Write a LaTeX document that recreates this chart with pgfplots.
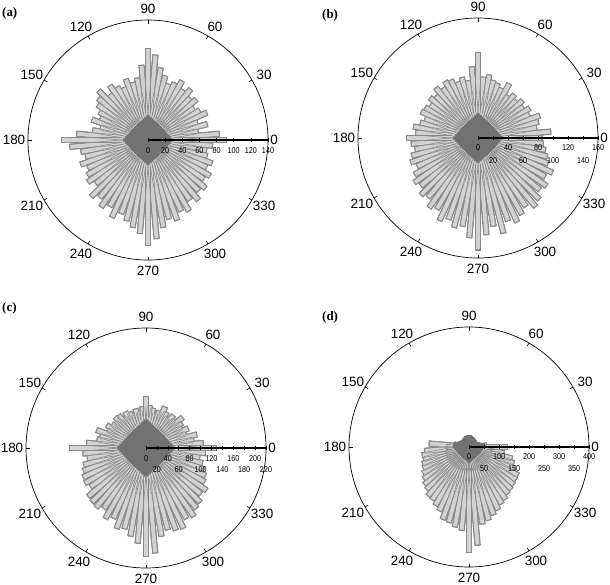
\documentclass[border=0pt]{standalone}
\usepackage{fontspec}
\setmainfont{Liberation Sans}
\newfontfamily\panelfont{Liberation Serif}
\newfontfamily\radfont[FakeStretch=0.85]{Liberation Sans}
\usepackage{pgfplots}
\usepackage{pgfplotstable}
\pgfplotsset{compat=1.18}

\definecolor{barfill}{HTML}{D2D2D2}
\definecolor{baredge}{HTML}{8A8A8A}
\definecolor{bardark}{HTML}{727272}

% bin centre (deg) and count
\pgfplotstableread{
a r
0 92
5 84
10 60
15 72
20 62
25 76
30 70
35 66
40 74
45 70
50 78
55 72
60 80
65 74
70 70
75 78
80 86
85 100
90 107
95 88
100 74
105 70
110 76
115 68
120 72
125 78
130 70
135 82
140 76
145 72
150 66
155 62
160 70
165 58
170 66
175 84
180 102
185 92
190 80
195 76
200 84
205 78
210 82
215 86
220 80
225 94
230 88
235 96
240 90
245 100
250 92
255 98
260 104
265 110
270 124
275 116
280 104
285 96
290 100
295 92
300 96
305 86
310 92
315 84
320 88
325 80
330 84
335 76
340 80
345 72
350 70
355 76
}\tabA

\pgfplotstableread{
a r
0 86
5 98
10 80
15 84
20 88
25 76
30 80
35 74
40 78
45 72
50 76
55 70
60 84
65 74
70 78
75 80
80 86
85 82
90 115
95 96
100 78
105 84
110 80
115 86
120 88
125 82
130 88
135 80
140 84
145 78
150 82
155 84
160 76
165 80
170 88
175 84
180 96
185 90
190 86
195 92
200 96
205 90
210 98
215 104
220 100
225 108
230 104
235 114
240 110
245 122
250 116
255 124
260 120
265 134
270 150
275 130
280 120
285 132
290 118
295 124
300 118
305 112
310 120
315 116
320 108
325 112
330 104
335 110
340 100
345 96
350 92
355 88
}\tabB

\pgfplotstableread{
a r
0 130
5 106
10 90
15 97
20 79
25 86
30 77
35 81
40 88
45 75
50 79
55 70
60 77
65 84
70 73
75 68
80 75
85 79
90 95
95 77
100 70
105 75
110 68
115 73
120 77
125 70
130 79
135 81
140 75
145 77
150 84
155 79
160 97
165 88
170 92
175 110
180 141
185 117
190 110
195 119
200 123
205 128
210 130
215 125
220 139
225 141
230 143
235 136
240 150
245 143
250 158
255 154
260 165
265 176
270 200
275 194
280 165
285 156
290 161
295 163
300 150
305 154
310 145
315 141
320 132
325 136
330 125
335 121
340 114
345 108
350 101
355 110
}\tabC

\pgfplotstableread{
a r
0 130
5 60
10 40
15 34
20 30
25 32
30 28
35 30
40 26
45 30
50 28
55 32
60 30
65 34
70 32
75 36
80 34
85 38
90 40
95 36
100 38
105 34
110 36
115 32
120 34
125 30
130 32
135 28
140 30
145 32
150 30
155 34
160 36
165 40
170 52
175 135
180 80
185 150
190 160
195 158
200 166
205 170
210 178
215 186
220 196
225 202
230 214
235 216
240 226
245 236
250 258
255 262
260 272
265 280
270 352
275 330
280 262
285 254
290 242
295 232
300 220
305 214
310 204
315 200
320 196
325 192
330 190
335 170
340 160
345 150
350 120
355 100
}\tabD

% #1 outer radius of the scale, #2 size of the dark centre (bp)
\pgfplotsset{
  rose/.style 2 args={
    hide axis, scale only axis, width=240bp, height=240bp,
    xmin=-#1, xmax=#1, ymin=-#1, ymax=#1, clip=false, anchor=center,
    declare function={
      rin(\p,\q)=min(\q,#2*#1/120/(abs(cos(\p))+abs(sin(\p))));
      rout(\p,\q)=max(\q-1.1*#1/120,rin(\p,\q));
      off(\p)=\p*2.4*#1/120;
    },
  },
  bar/.style={quiver={
      u={(rout(\thisrow{a},\thisrow{r})-rin(\thisrow{a},\thisrow{r}))*cos(\thisrow{a})},
      v={(rout(\thisrow{a},\thisrow{r})-rin(\thisrow{a},\thisrow{r}))*sin(\thisrow{a})}}},
}

\newcommand\roseplots[1]{%
  % dark core, whole length
  \addplot[draw=bardark, line width=6bp,
    quiver={u={\thisrow{r}*cos(\thisrow{a})}, v={\thisrow{r}*sin(\thisrow{a})}}]
    table[x expr=0, y expr=0] {#1};
  % bar outline
  \addplot[draw=baredge, line width=6bp,
    quiver={u={(\thisrow{r}-rin(\thisrow{a},\thisrow{r}))*cos(\thisrow{a})},
            v={(\thisrow{r}-rin(\thisrow{a},\thisrow{r}))*sin(\thisrow{a})}}]
    table[x expr={rin(\thisrow{a},\thisrow{r})*cos(\thisrow{a})},
          y expr={rin(\thisrow{a},\thisrow{r})*sin(\thisrow{a})}] {#1};
  % bar fill
  \addplot[draw=barfill, line width=4.3bp, bar]
    table[x expr={rin(\thisrow{a},\thisrow{r})*cos(\thisrow{a})},
          y expr={rin(\thisrow{a},\thisrow{r})*sin(\thisrow{a})}] {#1};
  % the edges of each bar, seen where the bars overlap
  \addplot[draw=baredge, line width=0.6bp, bar]
    table[x expr={rin(\thisrow{a},\thisrow{r})*cos(\thisrow{a})+off(1)*sin(\thisrow{a})},
          y expr={rin(\thisrow{a},\thisrow{r})*sin(\thisrow{a})-off(1)*cos(\thisrow{a})}] {#1};
  \addplot[draw=baredge, line width=0.6bp, bar]
    table[x expr={rin(\thisrow{a},\thisrow{r})*cos(\thisrow{a})-off(1)*sin(\thisrow{a})},
          y expr={rin(\thisrow{a},\thisrow{r})*sin(\thisrow{a})+off(1)*cos(\thisrow{a})}] {#1};
}

% circle, angle labels and the radial scale line
\newcommand\polarframe[2]{%
  \begin{scope}[shift={(#1bp,-#2bp)}]
    \draw[line width=0.7bp] (0,0) circle[radius=120bp];
    \foreach \t in {30,60,...,330} \draw[line width=0.6bp] (\t:120bp) -- (\t:116.5bp);
    \foreach \t in {30,60,...,330}
      \node[font=\fontsize{13.5}{14}\selectfont, inner sep=0pt]
        at ({134*cos(\t)*1bp},{131*sin(\t)*1bp}) {\t};
    \node[font=\fontsize{13.5}{14}\selectfont, inner sep=0pt] at (0:126bp) {0};
    \draw[line width=1.2bp] (0,0) -- (120bp,0);
  \end{scope}}

% #1 cx, #2 cy, #3 max, #4 list, #5 row offset
\newcommand\radlabels[5]{%
  \begin{scope}[shift={(#1bp,-#2bp)}]
    \foreach \v in {#4} {
      \pgfmathsetmacro\xx{\v/#3*120}
      \draw[line width=0.5bp] (\xx bp,-1.6bp) -- (\xx bp,1.6bp);
      \node[font=\radfont\fontsize{8.5}{9}\selectfont, inner sep=0pt]
        at (\xx bp,-#5bp) {\v};
    }
  \end{scope}}

\begin{document}
\begin{tikzpicture}
\useasboundingbox (0,0) rectangle (610bp,-585bp);

\begin{axis}[rose={140}{27}, at={(148bp,-140bp)}]
  \roseplots{\tabA}
\end{axis}
\polarframe{148}{140}
\radlabels{148}{140}{140}{0,20,40,60,80,100,120,140}{11}

\begin{axis}[rose={160}{27}, at={(478bp,-138bp)}]
  \roseplots{\tabB}
\end{axis}
\polarframe{478}{138}
\radlabels{478}{138}{160}{0,40,80,120,160}{10}
\radlabels{478}{138}{160}{20,60,100,140}{23}

\begin{axis}[rose={220}{31}, at={(146bp,-448bp)}]
  \roseplots{\tabC}
\end{axis}
\polarframe{146}{448}
\radlabels{146}{448}{220}{0,40,80,120,160,200}{11}
\radlabels{146}{448}{220}{20,60,100,140,180,220}{22}

\begin{axis}[rose={400}{18}, at={(469bp,-447bp)}]
  \roseplots{\tabD}
\end{axis}
\polarframe{469}{447}
\radlabels{469}{447}{400}{0,100,200,300,400}{10}
\radlabels{469}{447}{400}{50,150,250,350}{22}

\node[font=\panelfont\bfseries\fontsize{13}{13}\selectfont, anchor=north west, inner sep=0pt] at (2bp,-7bp) {(a)};
\node[font=\panelfont\bfseries\fontsize{13}{13}\selectfont, anchor=north west, inner sep=0pt] at (322bp,-9bp) {(b)};
\node[font=\panelfont\bfseries\fontsize{13}{13}\selectfont, anchor=north west, inner sep=0pt] at (2bp,-302bp) {(c)};
\node[font=\panelfont\bfseries\fontsize{13}{13}\selectfont, anchor=north west, inner sep=0pt] at (322bp,-311bp) {(d)};
\end{tikzpicture}
\end{document}
